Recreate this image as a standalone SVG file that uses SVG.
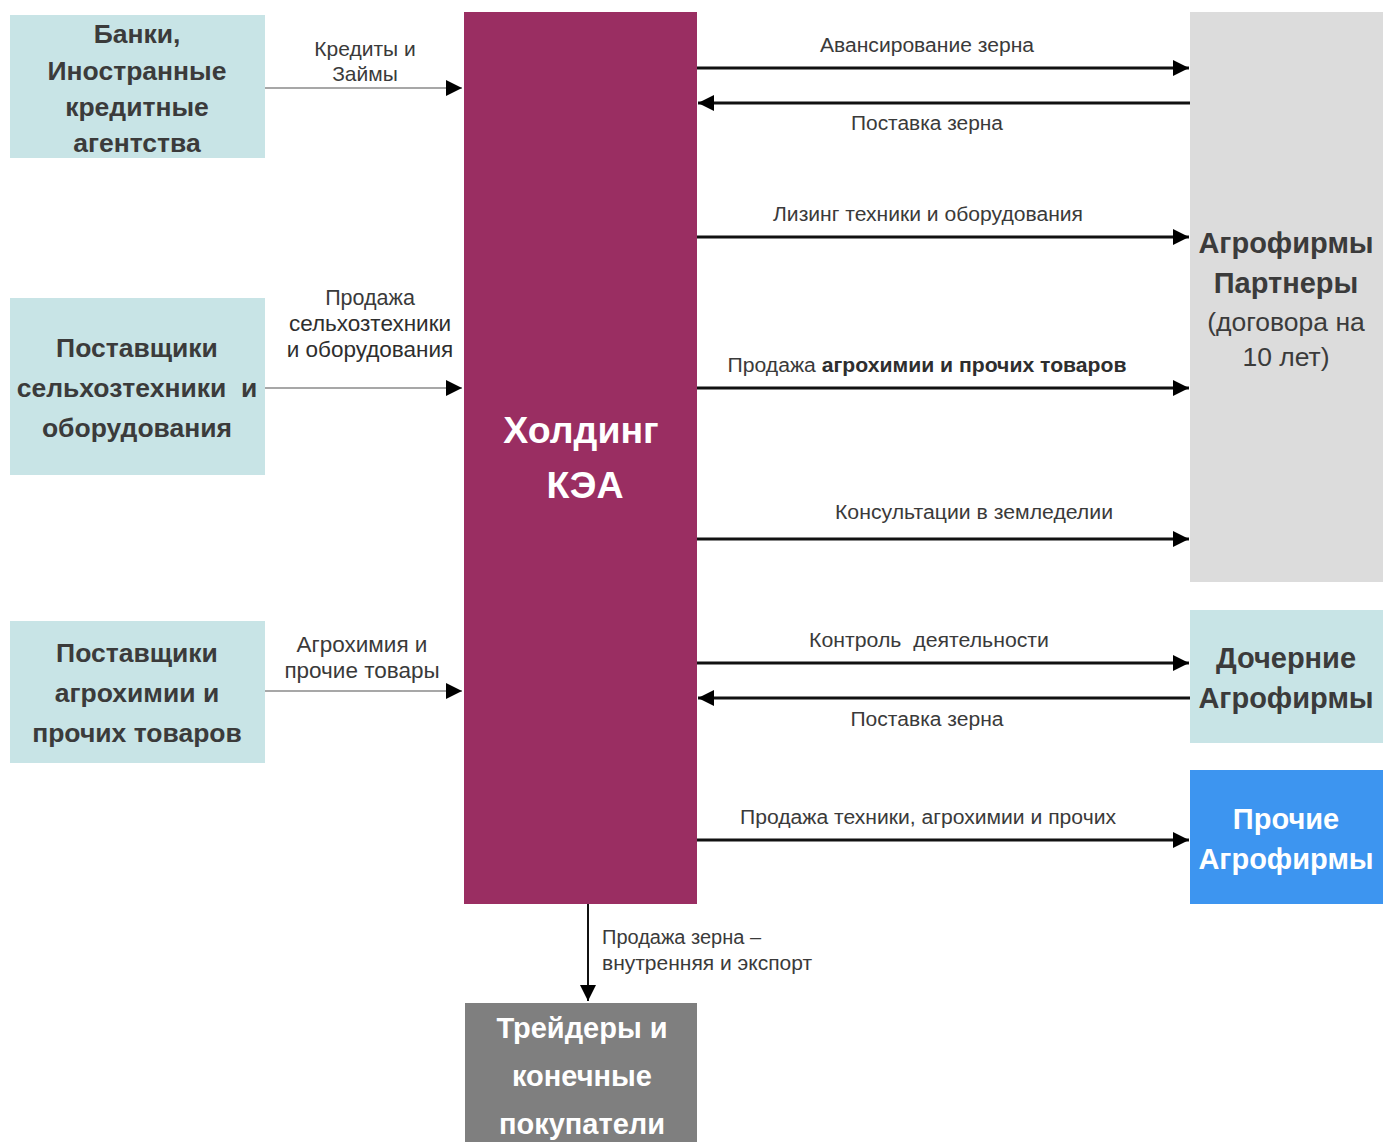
<svg xmlns="http://www.w3.org/2000/svg" width="1383" height="1142" viewBox="0 0 1383 1142">
<style>
.box{font-family:"Liberation Sans",Arial,sans-serif;font-weight:bold;font-size:26.5px;fill:#3b3b3b;text-anchor:middle}
.rbox{font-size:29px}
.wbox{font-family:"Liberation Sans",Arial,sans-serif;font-weight:bold;font-size:29px;fill:#ffffff;text-anchor:middle}
.lbl{font-family:"Liberation Sans Narrow","Liberation Sans",Arial,sans-serif;font-size:20px;fill:#3a3a3a;text-anchor:middle}
.lblb{font-weight:bold}
.thin{stroke:#8a8a8a;stroke-width:1.5;fill:none}
.thick{stroke:#111;stroke-width:3;fill:none}
</style>
<defs>
<marker id="ah" viewBox="0 0 10 10" refX="10" refY="5" markerWidth="16" markerHeight="16" markerUnits="userSpaceOnUse" orient="auto">
<path d="M0,0 L10,5 L0,10 z" fill="#000"/>
</marker>
<marker id="ah2" viewBox="0 0 10 10" refX="10" refY="5" markerWidth="16" markerHeight="18" markerUnits="userSpaceOnUse" orient="auto">
<path d="M0,0 L10,5 L0,10 z" fill="#000"/>
</marker>
</defs>
<rect width="1383" height="1142" fill="#ffffff"/>

<g id="banks">
<rect x="10" y="15" width="255" height="143" fill="#c8e4e6"/>
<text class="box" x="137" y="43">Банки,</text>
<text class="box" x="137" y="80">Иностранные</text>
<text class="box" x="137" y="116">кредитные</text>
<text class="box" x="137" y="152">агентства</text>
</g>

<g id="suppliers-machinery">
<rect x="10" y="298" width="255" height="177" fill="#c8e4e6"/>
<text class="box" x="137" y="357">Поставщики</text>
<text class="box" x="137" y="397" xml:space="preserve">сельхозтехники  и</text>
<text class="box" x="137" y="437">оборудования</text>
</g>

<g id="suppliers-agrochem">
<rect x="10" y="621" width="255" height="142" fill="#c8e4e6"/>
<text class="box" x="137" y="662">Поставщики</text>
<text class="box" x="137" y="702">агрохимии и</text>
<text class="box" x="137" y="742">прочих товаров</text>
</g>

<g id="holding">
<rect x="464" y="12" width="233" height="892" fill="#9a2e62"/>
<text class="wbox" x="581" y="443" style="font-size:37.5px">Холдинг</text>
<text class="wbox" x="585" y="498" style="font-size:37.5px">КЭА</text>
</g>

<g id="partners">
<rect x="1190" y="12" width="193" height="570" fill="#dcdcdc"/>
<text class="box rbox" x="1286" y="253">Агрофирмы</text>
<text class="box rbox" x="1286" y="293">Партнеры</text>
<text class="box" x="1286" y="331" style="font-weight:normal">(договора на</text>
<text class="box" x="1286" y="366" style="font-weight:normal">10 лет)</text>
</g>

<g id="subsidiaries">
<rect x="1190" y="610" width="193" height="133" fill="#c8e4e6"/>
<text class="box rbox" x="1286" y="668">Дочерние</text>
<text class="box rbox" x="1286" y="708">Агрофирмы</text>
</g>

<g id="others">
<rect x="1190" y="770" width="193" height="134" fill="#3d95f0"/>
<text class="wbox" x="1286" y="829">Прочие</text>
<text class="wbox" x="1286" y="869">Агрофирмы</text>
</g>

<g id="traders">
<rect x="465" y="1003" width="232" height="139" fill="#7f7f7f"/>
<text class="wbox" x="582" y="1038">Трейдеры и</text>
<text class="wbox" x="582" y="1086">конечные</text>
<text class="wbox" x="582" y="1134">покупатели</text>
</g>

<g id="connectors">
<line class="thin" x1="265" y1="88" x2="462" y2="88" marker-end="url(#ah)"/>
<line class="thin" x1="265" y1="388" x2="462" y2="388" marker-end="url(#ah)"/>
<line class="thin" x1="265" y1="691" x2="462" y2="691" marker-end="url(#ah)"/>
<line class="thick" x1="697" y1="68" x2="1189" y2="68" marker-end="url(#ah2)"/>
<line class="thick" x1="1190" y1="103" x2="698" y2="103" marker-end="url(#ah2)"/>
<line class="thick" x1="697" y1="237" x2="1189" y2="237" marker-end="url(#ah2)"/>
<line class="thick" x1="697" y1="388" x2="1189" y2="388" marker-end="url(#ah2)"/>
<line class="thick" x1="697" y1="539" x2="1189" y2="539" marker-end="url(#ah2)"/>
<line class="thick" x1="697" y1="663" x2="1189" y2="663" marker-end="url(#ah2)"/>
<line class="thick" x1="1190" y1="698" x2="698" y2="698" marker-end="url(#ah2)"/>
<line class="thick" x1="697" y1="840" x2="1189" y2="840" marker-end="url(#ah2)"/>
<line x1="588" y1="904" x2="588" y2="1001" stroke="#111" stroke-width="2" marker-end="url(#ah)"/>

<text class="lbl" x="365" y="56" style="font-size:21px">Кредиты и</text>
<text class="lbl" x="365" y="81" style="font-size:21px">Займы</text>
<text class="lbl" x="370" y="305" style="font-size:21.5px">Продажа</text>
<text class="lbl" x="370" y="331" style="font-size:22.5px;fill:#2e2e2e">сельхозтехники</text>
<text class="lbl" x="370" y="357" style="font-size:22.5px;fill:#2e2e2e">и оборудования</text>
<text class="lbl" x="362" y="652" style="font-size:22.5px">Агрохимия и</text>
<text class="lbl" x="362" y="678" style="font-size:22.5px">прочие товары</text>

<text class="lbl" x="927" y="52" textLength="214" lengthAdjust="spacingAndGlyphs">Авансирование зерна</text>
<text class="lbl" x="927" y="130" textLength="152" lengthAdjust="spacingAndGlyphs">Поставка зерна</text>
<text class="lbl" x="928" y="221" textLength="310" lengthAdjust="spacingAndGlyphs">Лизинг техники и оборудования</text>
<text class="lbl" x="927" y="372" textLength="399" lengthAdjust="spacingAndGlyphs">Продажа <tspan class="lblb" fill="#2e2e2e">агрохимии и прочих товаров</tspan></text>
<text class="lbl" x="974" y="519" textLength="278" lengthAdjust="spacingAndGlyphs">Консультации в земледелии</text>
<text class="lbl" x="929" y="647" textLength="240" lengthAdjust="spacingAndGlyphs" xml:space="preserve">Контроль  деятельности</text>
<text class="lbl" x="927" y="726" textLength="153" lengthAdjust="spacingAndGlyphs">Поставка зерна</text>
<text class="lbl" x="928" y="824" textLength="376" lengthAdjust="spacingAndGlyphs">Продажа техники, агрохимии и прочих</text>
<text class="lbl" x="602" y="944" style="text-anchor:start">Продажа зерна –</text>
<text class="lbl" x="602" y="970" style="text-anchor:start" textLength="210" lengthAdjust="spacingAndGlyphs">внутренняя и экспорт</text>
</g>
</svg>
